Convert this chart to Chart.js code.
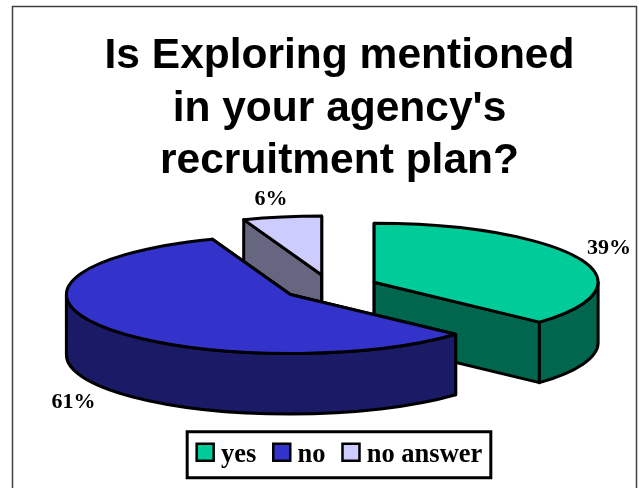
<!DOCTYPE html>
<html>
<head>
<meta charset="utf-8">
<title>Is Exploring mentioned in your agency's recruitment plan?</title>
<script src="https://cdn.jsdelivr.net/npm/chart.js@4"></script>
<style>
  html, body { margin: 0; padding: 0; background: #fff; }
  canvas { display: block; }
</style>
</head>
<body>
<canvas id="chart" width="639" height="488"></canvas>
<script>
// Survey answers
const categories = ['yes', 'no', 'no answer'];
const percentages = [39, 61, 6];
const titleLines = ['Is Exploring mentioned', 'in your agency\'s', 'recruitment plan?'];

// Slice colours: top faces and the darker side walls
const topColors = ['#00CC99', '#3333CC', '#CCCCFF'];
const wallColors = ['#00664D', '#1A1A66', '#666680'];

// Shape of the tilted pie
const pieCenter = { x: 330.2, y: 287.4 };
const radiusX = 224;
const radiusY = 59;
const depth = 60.5;
const explode = 48;           // slice pull-out, in unsquashed pie pixels
const paintOrder = [2, 0, 1]; // back to front
const labelNudges = [[30, -10], [-31, 75], [-11, -18]];

const TAU = Math.PI * 2;

// Ellipse centre of one slice after it has been pulled out
function sliceCenter(arc) {
  const mid = (arc.startAngle + arc.endAngle) / 2;
  return {
    x: pieCenter.x + Math.cos(mid) * explode,
    y: pieCenter.y + Math.sin(mid) * explode * radiusY / radiusX
  };
}

function rimPoint(c, angle) {
  return { x: c.x + Math.cos(angle) * radiusX, y: c.y + Math.sin(angle) * radiusY };
}

function drawCutWall(ctx, c, angle) {
  const p = rimPoint(c, angle);
  ctx.beginPath();
  ctx.moveTo(c.x, c.y);
  ctx.lineTo(p.x, p.y);
  ctx.lineTo(p.x, p.y + depth);
  ctx.lineTo(c.x, c.y + depth);
  ctx.closePath();
  ctx.fill();
  ctx.stroke();
}

// Outer wall, limited to the half of the rim facing the viewer
function drawRimWall(ctx, c, start, end) {
  const from = Math.max(start, 0);
  const to = Math.min(end, Math.PI);
  if (to <= from) return;
  ctx.beginPath();
  ctx.ellipse(c.x, c.y, radiusX, radiusY, 0, from, to);
  ctx.ellipse(c.x, c.y + depth, radiusX, radiusY, 0, to, from, true);
  ctx.closePath();
  ctx.fill();
  ctx.stroke();
}

const tiltedPie = {
  id: 'tiltedPie',
  beforeDatasetsDraw(chart) {
    const ctx = chart.ctx;
    const arcs = chart.getDatasetMeta(0).data;
    paintOrder.forEach(i => {
      const arc = arcs[i];
      const c = sliceCenter(arc);
      // Normalised so that the front half of the rim lies in 0..PI
      const start = ((arc.startAngle % TAU) + TAU) % TAU;
      const sweep = arc.endAngle - arc.startAngle;
      const spans = [[start, start + sweep], [start - TAU, start + sweep - TAU]];

      ctx.save();
      ctx.lineWidth = 3;
      ctx.lineJoin = 'round';
      ctx.strokeStyle = '#000';
      ctx.fillStyle = wallColors[i];
      drawCutWall(ctx, c, arc.startAngle);
      drawCutWall(ctx, c, arc.endAngle);
      spans.forEach(s => drawRimWall(ctx, c, s[0], s[1]));
      ctx.restore();

      // Top face: the library's own arc element, squashed onto the ellipse
      const scale = radiusX / arc.outerRadius;
      ctx.save();
      ctx.translate(c.x, c.y);
      ctx.scale(scale, scale * radiusY / radiusX);
      ctx.translate(-arc.x, -arc.y);
      arc.draw(ctx);
      ctx.restore();

      // Outline kept out of the squash so the line weight stays even
      ctx.save();
      ctx.lineWidth = 3;
      ctx.lineJoin = 'round';
      ctx.strokeStyle = '#000';
      ctx.beginPath();
      ctx.moveTo(c.x, c.y);
      ctx.ellipse(c.x, c.y, radiusX, radiusY, 0, arc.startAngle, arc.endAngle);
      ctx.closePath();
      ctx.stroke();
      ctx.restore();
    });
    return false;
  },
  afterDraw(chart) {
    const ctx = chart.ctx;
    const arcs = chart.getDatasetMeta(0).data;
    ctx.save();
    ctx.fillStyle = '#000';
    ctx.font = 'bold 22px "Liberation Serif"';
    ctx.textAlign = 'center';
    ctx.textBaseline = 'middle';
    arcs.forEach((arc, i) => {
      const p = rimPoint(sliceCenter(arc), (arc.startAngle + arc.endAngle) / 2);
      ctx.fillText(percentages[i] + '%', p.x + labelNudges[i][0], p.y + labelNudges[i][1]);
    });
    ctx.restore();
  }
};

// Frame round the whole chart, drawn behind everything else
const chartFrame = {
  id: 'chartFrame',
  beforeDraw(chart) {
    const ctx = chart.ctx;
    ctx.save();
    ctx.fillStyle = '#fff';
    ctx.fillRect(0, 0, chart.width, chart.height);
    ctx.strokeStyle = '#404040';
    ctx.lineWidth = 1.5;
    ctx.strokeRect(12.5, 6.5, 624, 490);
    ctx.restore();
  }
};

// Legend box and square swatches placed on the legend's own hit boxes
const legendBox = {
  id: 'legendBox',
  afterDraw(chart) {
    const ctx = chart.ctx;
    const boxes = chart.legend.legendHitBoxes;
    const left = boxes[0].left;
    const last = boxes[boxes.length - 1];
    const right = last.left + last.width;
    const midY = boxes[0].top + boxes[0].height / 2;
    ctx.save();
    ctx.strokeStyle = '#000';
    ctx.lineWidth = 3;
    ctx.strokeRect(left - 9.5, midY - 23, right - left + 18, 46);
    ctx.lineWidth = 2.5;
    boxes.forEach((b, i) => {
      ctx.fillStyle = topColors[i];
      ctx.fillRect(b.left, midY - 11, 17, 17);
      ctx.strokeRect(b.left, midY - 11, 17, 17);
    });
    ctx.restore();
  }
};

new Chart(document.getElementById('chart'), {
  type: 'pie',
  data: {
    labels: categories,
    datasets: [{
      data: percentages,
      backgroundColor: topColors,
      borderWidth: 0
    }]
  },
  options: {
    responsive: false,
    animation: false,
    rotation: 0,
    layout: { padding: { left: 40, right: 0, top: 30, bottom: 10 } },
    plugins: {
      title: {
        display: true,
        text: titleLines,
        color: '#000',
        font: { family: '"Liberation Sans"', size: 42.5, weight: 'bold', lineHeight: 1.24 },
        padding: 0
      },
      legend: {
        position: 'bottom',
        labels: {
          color: '#000',
          boxWidth: 11,
          boxHeight: 11,
          padding: 17,
          font: { family: '"Liberation Serif"', size: 26.5, weight: 'bold' },
          generateLabels(chart) {
            return categories.map((text, i) => ({
              text, index: i, fillStyle: 'rgba(0,0,0,0)', strokeStyle: 'rgba(0,0,0,0)', lineWidth: 0
            }));
          }
        }
      },
      tooltip: { enabled: false }
    }
  },
  plugins: [chartFrame, tiltedPie, legendBox]
});
</script>
</body>
</html>
